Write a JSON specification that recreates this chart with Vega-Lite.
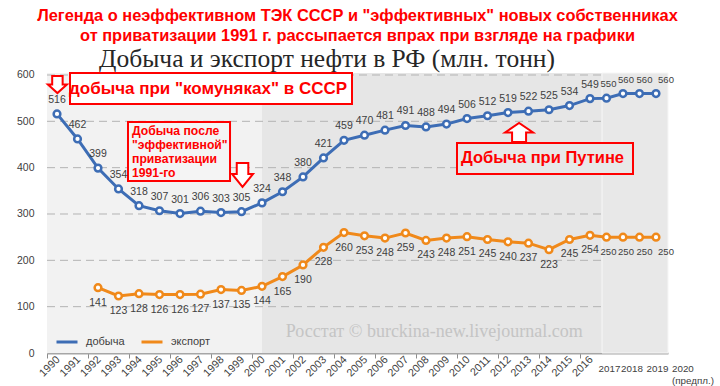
{
  "$schema": "https://vega.github.io/schema/vega-lite/v6.json",
  "width": 621,
  "height": 280,
  "autosize": {"type": "none"},
  "padding": {"left": 47, "top": 73, "right": 52, "bottom": 33},
  "background": "white",
  "config": {"view": {"stroke": null}},
  "title": {
    "text": ["Легенда о неэффективном ТЭК СССР и \"эффективных\" новых собственниках", "от приватизации 1991 г. рассыпается впрах при взгляде на графики"],
    "font": "Liberation Sans", "fontSize": 16.4, "fontWeight": "bold", "color": "#ff0000",
    "anchor": "middle", "frame": "group", "lineHeight": 20, "offset": 3
  },
  "data": {"values": [
    {"year": 1990, "series": "добыча", "value": 516},
    {"year": 1991, "series": "добыча", "value": 462},
    {"year": 1992, "series": "добыча", "value": 399},
    {"year": 1993, "series": "добыча", "value": 354},
    {"year": 1994, "series": "добыча", "value": 318},
    {"year": 1995, "series": "добыча", "value": 307},
    {"year": 1996, "series": "добыча", "value": 301},
    {"year": 1997, "series": "добыча", "value": 306},
    {"year": 1998, "series": "добыча", "value": 303},
    {"year": 1999, "series": "добыча", "value": 305},
    {"year": 2000, "series": "добыча", "value": 324},
    {"year": 2001, "series": "добыча", "value": 348},
    {"year": 2002, "series": "добыча", "value": 380},
    {"year": 2003, "series": "добыча", "value": 421},
    {"year": 2004, "series": "добыча", "value": 459},
    {"year": 2005, "series": "добыча", "value": 470},
    {"year": 2006, "series": "добыча", "value": 481},
    {"year": 2007, "series": "добыча", "value": 491},
    {"year": 2008, "series": "добыча", "value": 488},
    {"year": 2009, "series": "добыча", "value": 494},
    {"year": 2010, "series": "добыча", "value": 506},
    {"year": 2011, "series": "добыча", "value": 512},
    {"year": 2012, "series": "добыча", "value": 519},
    {"year": 2013, "series": "добыча", "value": 522},
    {"year": 2014, "series": "добыча", "value": 525},
    {"year": 2015, "series": "добыча", "value": 534},
    {"year": 2016, "series": "добыча", "value": 549},
    {"year": 2017, "series": "добыча", "value": 550},
    {"year": 2018, "series": "добыча", "value": 560},
    {"year": 2019, "series": "добыча", "value": 560},
    {"year": 2020, "series": "добыча", "value": 560},
    {"year": 1992, "series": "экспорт", "value": 141},
    {"year": 1993, "series": "экспорт", "value": 123},
    {"year": 1994, "series": "экспорт", "value": 128},
    {"year": 1995, "series": "экспорт", "value": 126},
    {"year": 1996, "series": "экспорт", "value": 126},
    {"year": 1997, "series": "экспорт", "value": 127},
    {"year": 1998, "series": "экспорт", "value": 137},
    {"year": 1999, "series": "экспорт", "value": 135},
    {"year": 2000, "series": "экспорт", "value": 144},
    {"year": 2001, "series": "экспорт", "value": 165},
    {"year": 2002, "series": "экспорт", "value": 190},
    {"year": 2003, "series": "экспорт", "value": 228},
    {"year": 2004, "series": "экспорт", "value": 260},
    {"year": 2005, "series": "экспорт", "value": 253},
    {"year": 2006, "series": "экспорт", "value": 248},
    {"year": 2007, "series": "экспорт", "value": 259},
    {"year": 2008, "series": "экспорт", "value": 243},
    {"year": 2009, "series": "экспорт", "value": 248},
    {"year": 2010, "series": "экспорт", "value": 251},
    {"year": 2011, "series": "экспорт", "value": 245},
    {"year": 2012, "series": "экспорт", "value": 240},
    {"year": 2013, "series": "экспорт", "value": 237},
    {"year": 2014, "series": "экспорт", "value": 223},
    {"year": 2015, "series": "экспорт", "value": 245},
    {"year": 2016, "series": "экспорт", "value": 254},
    {"year": 2017, "series": "экспорт", "value": 250},
    {"year": 2018, "series": "экспорт", "value": 250},
    {"year": 2019, "series": "экспорт", "value": 250},
    {"year": 2020, "series": "экспорт", "value": 250}
  ]},
  "layer": [
    {
      "data": {"values": [{}]},
      "mark": {"type": "rect", "fill": "#f2f2f2"},
      "encoding": {
        "x": {"datum": 1989.512, "type": "quantitative", "title": null},
        "x2": {"datum": 2000},
        "y": {"datum": 0, "type": "quantitative", "title": null},
        "y2": {"datum": 604.3}
      }
    },
    {
      "data": {"values": [{}]},
      "mark": {"type": "rect", "fill": "#e6e6e6"},
      "encoding": {
        "x": {"datum": 2000, "type": "quantitative", "title": null},
        "x2": {"datum": 2016.73},
        "y": {"datum": 0, "type": "quantitative", "title": null},
        "y2": {"datum": 604.3}
      }
    },
    {
      "data": {"values": [{}]},
      "mark": {"type": "rect", "fill": "#e8e8e8", "stroke": "#f6f6f6", "strokeWidth": 1},
      "encoding": {
        "x": {"datum": 2016.73, "type": "quantitative", "title": null},
        "x2": {"datum": 2020.727},
        "y": {"datum": 0, "type": "quantitative", "title": null},
        "y2": {"datum": 604.3}
      }
    },
    {
      "data": {"values": [{"g": 100}, {"g": 200}, {"g": 300}, {"g": 400}, {"g": 500}, {"g": 600}]},
      "mark": {"type": "rule", "stroke": "#b4b4b4", "strokeWidth": 1, "strokeDash": [8, 5]},
      "encoding": {
        "x": {"datum": 1989.512, "type": "quantitative", "title": null},
        "x2": {"datum": 2016.73},
        "y": {"field": "g", "type": "quantitative", "title": null}
      }
    },
    {
      "data": {"values": [{}]},
      "mark": {"type": "rect", "fill": "white", "stroke": "#ff0000", "strokeWidth": 2},
      "encoding": {
        "x": {"datum": 1990.634, "type": "quantitative", "title": null},
        "x2": {"datum": 2004.39},
        "y": {"datum": 604.3, "type": "quantitative", "title": null},
        "y2": {"datum": 537.4}
      }
    },
    {
      "data": {"values": [{}]},
      "mark": {"type": "rect", "fill": "#f4f4f4", "stroke": "#ff0000", "strokeWidth": 2},
      "encoding": {
        "x": {"datum": 1993.463, "type": "quantitative", "title": null},
        "x2": {"datum": 1998.44},
        "y": {"datum": 498.5, "type": "quantitative", "title": null},
        "y2": {"datum": 371.2}
      }
    },
    {
      "data": {"values": [{}]},
      "mark": {"type": "rect", "fill": "#e8e8e8", "stroke": "#ff0000", "strokeWidth": 2},
      "encoding": {
        "x": {"datum": 2009.512, "type": "quantitative", "title": null},
        "x2": {"datum": 2018.606},
        "y": {"datum": 453.2, "type": "quantitative", "title": null},
        "y2": {"datum": 386.3}
      }
    },
    {
      "data": {"values": [{}]},
      "mark": {"type": "text", "text": "Росстат © burckina-new.livejournal.com", "font": "Liberation Serif", "fontSize": 18, "color": "#c4c4c4", "align": "center", "baseline": "middle"},
      "encoding": {
        "x": {"datum": 2008.4, "type": "quantitative", "title": null},
        "y": {"datum": 45, "type": "quantitative", "title": null}
      }
    },
    {
      "mark": {"type": "line", "strokeWidth": 3},
      "encoding": {
        "x": {"field": "year", "type": "quantitative", "title": null,
          "scale": {"domain": [1989.512, 2016, 2020, 2020.727], "range": [0, 543, 609, 621], "nice": false, "zero": false},
          "axis": {
            "title": null,
            "values": [1990,1991,1992,1993,1994,1995,1996,1997,1998,1999,2000,2001,2002,2003,2004,2005,2006,2007,2008,2009,2010,2011,2012,2013,2014,2015,2016,2017],
            "labels": false, "tickOffset": -10.25,
            "tickSize": 5, "tickColor": "#8c8c8c", "tickWidth": 1,
            "domainColor": "#a6a6a6", "domainWidth": 2, "grid": false
          }
        },
        "y": {"field": "value", "type": "quantitative", "title": null,
          "scale": {"domain": [0, 604.3], "nice": false, "zero": true},
          "axis": {"title": null, "values": [0,100,200,300,400,500,600], "domain": false, "ticks": false, "grid": false,
            "labelPadding": 13, "labelFont": "Liberation Sans", "labelFontSize": 10.5, "labelColor": "#404040"}
        },
        "stroke": {"field": "series", "type": "nominal",
          "scale": {"domain": ["добыча", "экспорт"], "range": ["#3d6db5", "#f0891a"]},
          "legend": {"title": null, "orient": "none", "legendX": 8, "legendY": 257, "direction": "horizontal",
            "symbolType": "stroke", "symbolStrokeWidth": 3, "symbolSize": 441,
            "labelFont": "Liberation Sans", "labelFontSize": 11, "labelColor": "#404040",
            "labelOffset": 7, "columnPadding": 10}
        }
      }
    },
    {
      "mark": {"type": "point", "filled": true, "fill": "white", "strokeWidth": 2.5, "size": 45, "opacity": 1},
      "encoding": {
        "x": {"field": "year", "type": "quantitative", "title": null},
        "y": {"field": "value", "type": "quantitative", "title": null},
        "stroke": {"field": "series", "type": "nominal"}
      }
    },
    {
      "transform": [{"filter": "datum.series == 'добыча' && datum.year <= 2016"}],
      "mark": {"type": "text", "dy": -14, "font": "Liberation Sans", "fontSize": 10.5, "color": "#404040", "baseline": "middle"},
      "encoding": {
        "x": {"field": "year", "type": "quantitative", "title": null},
        "y": {"field": "value", "type": "quantitative", "title": null},
        "text": {"field": "value", "type": "quantitative"}
      }
    },
    {
      "transform": [{"filter": "datum.series == 'экспорт' && datum.year <= 2016"}],
      "mark": {"type": "text", "dy": 15, "font": "Liberation Sans", "fontSize": 10.5, "color": "#404040", "baseline": "middle"},
      "encoding": {
        "x": {"field": "year", "type": "quantitative", "title": null},
        "y": {"field": "value", "type": "quantitative", "title": null},
        "text": {"field": "value", "type": "quantitative"}
      }
    },
    {
      "transform": [{"filter": "datum.series == 'добыча' && datum.year == 2017"}],
      "mark": {"type": "text", "dy": -14, "dx": 2, "font": "Liberation Sans", "fontSize": 9.5, "color": "#404040", "baseline": "middle"},
      "encoding": {
        "x": {"field": "year", "type": "quantitative", "title": null},
        "y": {"field": "value", "type": "quantitative", "title": null},
        "text": {"field": "value", "type": "quantitative"}
      }
    },
    {
      "transform": [{"filter": "datum.series == 'добыча' && datum.year == 2018"}],
      "mark": {"type": "text", "dy": -14, "dx": 3, "font": "Liberation Sans", "fontSize": 9.5, "color": "#404040", "baseline": "middle"},
      "encoding": {
        "x": {"field": "year", "type": "quantitative", "title": null},
        "y": {"field": "value", "type": "quantitative", "title": null},
        "text": {"field": "value", "type": "quantitative"}
      }
    },
    {
      "transform": [{"filter": "datum.series == 'добыча' && datum.year == 2019"}],
      "mark": {"type": "text", "dy": -14, "dx": 5, "font": "Liberation Sans", "fontSize": 9.5, "color": "#404040", "baseline": "middle"},
      "encoding": {
        "x": {"field": "year", "type": "quantitative", "title": null},
        "y": {"field": "value", "type": "quantitative", "title": null},
        "text": {"field": "value", "type": "quantitative"}
      }
    },
    {
      "transform": [{"filter": "datum.series == 'добыча' && datum.year == 2020"}],
      "mark": {"type": "text", "dy": -14, "dx": 10, "font": "Liberation Sans", "fontSize": 9.5, "color": "#404040", "baseline": "middle"},
      "encoding": {
        "x": {"field": "year", "type": "quantitative", "title": null},
        "y": {"field": "value", "type": "quantitative", "title": null},
        "text": {"field": "value", "type": "quantitative"}
      }
    },
    {
      "transform": [{"filter": "datum.series == 'экспорт' && datum.year == 2017"}],
      "mark": {"type": "text", "dy": 15, "dx": 2, "font": "Liberation Sans", "fontSize": 9.5, "color": "#404040", "baseline": "middle"},
      "encoding": {
        "x": {"field": "year", "type": "quantitative", "title": null},
        "y": {"field": "value", "type": "quantitative", "title": null},
        "text": {"field": "value", "type": "quantitative"}
      }
    },
    {
      "transform": [{"filter": "datum.series == 'экспорт' && datum.year == 2018"}],
      "mark": {"type": "text", "dy": 15, "dx": 3, "font": "Liberation Sans", "fontSize": 9.5, "color": "#404040", "baseline": "middle"},
      "encoding": {
        "x": {"field": "year", "type": "quantitative", "title": null},
        "y": {"field": "value", "type": "quantitative", "title": null},
        "text": {"field": "value", "type": "quantitative"}
      }
    },
    {
      "transform": [{"filter": "datum.series == 'экспорт' && datum.year == 2019"}],
      "mark": {"type": "text", "dy": 15, "dx": 5, "font": "Liberation Sans", "fontSize": 9.5, "color": "#404040", "baseline": "middle"},
      "encoding": {
        "x": {"field": "year", "type": "quantitative", "title": null},
        "y": {"field": "value", "type": "quantitative", "title": null},
        "text": {"field": "value", "type": "quantitative"}
      }
    },
    {
      "transform": [{"filter": "datum.series == 'экспорт' && datum.year == 2020"}],
      "mark": {"type": "text", "dy": 15, "dx": 10, "font": "Liberation Sans", "fontSize": 9.5, "color": "#404040", "baseline": "middle"},
      "encoding": {
        "x": {"field": "year", "type": "quantitative", "title": null},
        "y": {"field": "value", "type": "quantitative", "title": null},
        "text": {"field": "value", "type": "quantitative"}
      }
    },
    {
      "transform": [{"filter": "datum.series == 'добыча' && datum.year <= 2016"}],
      "mark": {"type": "text", "angle": -45, "align": "right", "baseline": "middle", "dx": 2, "font": "Liberation Sans", "fontSize": 10.8, "color": "#404040"},
      "encoding": {
        "x": {"field": "year", "type": "quantitative", "title": null},
        "y": {"datum": -14, "type": "quantitative", "title": null},
        "text": {"field": "year", "type": "quantitative", "format": "d"}
      }
    },
    {
      "transform": [{"filter": "datum.series == 'добыча' && datum.year == 2017"}],
      "mark": {"type": "text", "align": "center", "baseline": "middle", "dx": 3, "font": "Liberation Sans", "fontSize": 9.8, "color": "#404040"},
      "encoding": {
        "x": {"field": "year", "type": "quantitative", "title": null},
        "y": {"datum": -33.5, "type": "quantitative", "title": null},
        "text": {"field": "year", "type": "quantitative", "format": "d"}
      }
    },
    {
      "transform": [{"filter": "datum.series == 'добыча' && datum.year == 2018"}],
      "mark": {"type": "text", "align": "center", "baseline": "middle", "dx": 9, "font": "Liberation Sans", "fontSize": 9.8, "color": "#404040"},
      "encoding": {
        "x": {"field": "year", "type": "quantitative", "title": null},
        "y": {"datum": -33.5, "type": "quantitative", "title": null},
        "text": {"field": "year", "type": "quantitative", "format": "d"}
      }
    },
    {
      "transform": [{"filter": "datum.series == 'добыча' && datum.year == 2019"}],
      "mark": {"type": "text", "align": "center", "baseline": "middle", "dx": 18, "font": "Liberation Sans", "fontSize": 9.8, "color": "#404040"},
      "encoding": {
        "x": {"field": "year", "type": "quantitative", "title": null},
        "y": {"datum": -33.5, "type": "quantitative", "title": null},
        "text": {"field": "year", "type": "quantitative", "format": "d"}
      }
    },
    {
      "data": {"values": [{}]},
      "mark": {"type": "text", "text": ["2020", "(предпл.)"], "align": "left", "baseline": "middle", "dx": 16, "lineHeight": 12, "font": "Liberation Sans", "fontSize": 9.8, "color": "#404040"},
      "encoding": {
        "x": {"datum": 2020, "type": "quantitative", "title": null},
        "y": {"datum": -33.5, "type": "quantitative", "title": null}
      }
    },
    {
      "data": {"values": [{}]},
      "mark": {"type": "text", "text": "добыча при \"комуняках\" в СССР", "font": "Liberation Sans", "fontSize": 17, "fontWeight": "bold", "color": "#ff0000", "align": "center", "baseline": "middle"},
      "encoding": {
        "x": {"datum": 1997.366, "type": "quantitative", "title": null},
        "y": {"datum": 570.8, "type": "quantitative", "title": null}
      }
    },
    {
      "data": {"values": [{}]},
      "mark": {"type": "text", "text": ["Добыча после", "\"эффективной\"", "приватизации", "1991-го"], "font": "Liberation Sans", "fontSize": 12.2, "fontWeight": "bold", "color": "#ff0000", "align": "left", "baseline": "middle", "lineHeight": 14},
      "encoding": {
        "x": {"datum": 1993.66, "type": "quantitative", "title": null},
        "y": {"datum": 479.1, "type": "quantitative", "title": null}
      }
    },
    {
      "data": {"values": [{}]},
      "mark": {"type": "text", "text": "Добыча при Путине", "font": "Liberation Sans", "fontSize": 16.5, "fontWeight": "bold", "color": "#ff0000", "align": "center", "baseline": "middle"},
      "encoding": {
        "x": {"datum": 2013.683, "type": "quantitative", "title": null},
        "y": {"datum": 419.8, "type": "quantitative", "title": null}
      }
    },
    {
      "data": {"values": [{}]},
      "mark": {"type": "point", "shape": "M-0.55,-0.9L0.55,-0.9L0.55,0L1,0L0,0.9L-1,0L-0.55,0Z", "size": 361, "filled": true, "fill": "white", "stroke": "#ff0000", "strokeWidth": 2, "opacity": 1},
      "encoding": {
        "x": {"datum": 1990.02, "type": "quantitative", "title": null},
        "y": {"datum": 579.5, "type": "quantitative", "title": null}
      }
    },
    {
      "data": {"values": [{}]},
      "mark": {"type": "point", "shape": "M-0.55,-1.14L0.55,-1.14L0.55,-0.1L1,-0.1L0,1.14L-1,-0.1L-0.55,-0.1Z", "size": 441, "filled": true, "fill": "white", "stroke": "#ff0000", "strokeWidth": 2, "opacity": 1},
      "encoding": {
        "x": {"datum": 1999.05, "type": "quantitative", "title": null},
        "y": {"datum": 384.2, "type": "quantitative", "title": null}
      }
    },
    {
      "data": {"values": [{}]},
      "mark": {"type": "point", "shape": "M-0.5,0.68L0.5,0.68L0.5,0L1,0L0,-0.68L-1,0L-0.5,0Z", "size": 784, "filled": true, "fill": "white", "stroke": "#ff0000", "strokeWidth": 2, "opacity": 1},
      "encoding": {
        "x": {"datum": 2012.54, "type": "quantitative", "title": null},
        "y": {"datum": 475.9, "type": "quantitative", "title": null}
      }
    },
    {
      "data": {"values": [{}]},
      "mark": {"type": "text", "text": "Добыча и экспорт нефти в РФ (млн. тонн)", "font": "Liberation Serif", "fontSize": 25.5, "color": "#262626", "align": "center", "baseline": "alphabetic"},
      "encoding": {
        "x": {"datum": 2003.17, "type": "quantitative", "title": null},
        "y": {"datum": 617.3, "type": "quantitative", "title": null}
      }
    }
  ]
}
